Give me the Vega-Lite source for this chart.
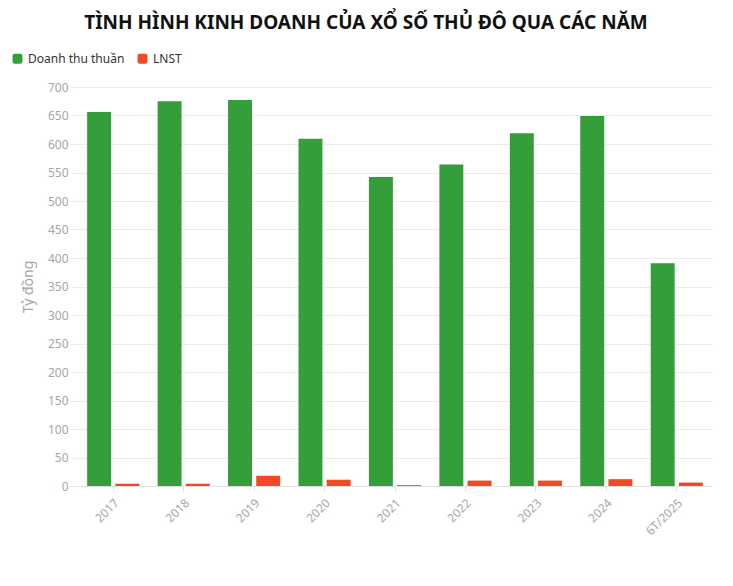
{
  "$schema": "https://vega.github.io/schema/vega-lite/v6.json",
  "width": 634,
  "height": 399,
  "autosize": "none",
  "padding": {"left": 78, "top": 87, "right": 21, "bottom": 100},
  "background": "white",
  "title": {
    "text": "TÌNH HÌNH KINH DOANH CỦA XỔ SỐ THỦ ĐÔ QUA CÁC NĂM",
    "font": "Noto Sans",
    "fontSize": 19,
    "fontWeight": "bold",
    "color": "#111111",
    "anchor": "middle",
    "dx": -29,
    "offset": 18
  },
  "data": {
    "values": [
      {"nam": "2017", "chi_tieu": "Doanh thu thuần", "gia_tri": 656},
      {"nam": "2017", "chi_tieu": "LNST", "gia_tri": 4},
      {"nam": "2018", "chi_tieu": "Doanh thu thuần", "gia_tri": 675},
      {"nam": "2018", "chi_tieu": "LNST", "gia_tri": 4},
      {"nam": "2019", "chi_tieu": "Doanh thu thuần", "gia_tri": 677},
      {"nam": "2019", "chi_tieu": "LNST", "gia_tri": 18},
      {"nam": "2020", "chi_tieu": "Doanh thu thuần", "gia_tri": 609},
      {"nam": "2020", "chi_tieu": "LNST", "gia_tri": 11},
      {"nam": "2021", "chi_tieu": "Doanh thu thuần", "gia_tri": 542},
      {"nam": "2021", "chi_tieu": "LNST", "gia_tri": 1.5},
      {"nam": "2022", "chi_tieu": "Doanh thu thuần", "gia_tri": 564},
      {"nam": "2022", "chi_tieu": "LNST", "gia_tri": 9.5},
      {"nam": "2023", "chi_tieu": "Doanh thu thuần", "gia_tri": 619},
      {"nam": "2023", "chi_tieu": "LNST", "gia_tri": 9.5},
      {"nam": "2024", "chi_tieu": "Doanh thu thuần", "gia_tri": 649},
      {"nam": "2024", "chi_tieu": "LNST", "gia_tri": 12},
      {"nam": "6T/2025", "chi_tieu": "Doanh thu thuần", "gia_tri": 391},
      {"nam": "6T/2025", "chi_tieu": "LNST", "gia_tri": 6}
    ]
  },
  "mark": {"type": "bar"},
  "encoding": {
    "x": {
      "field": "nam",
      "type": "nominal",
      "sort": null,
      "scale": {"paddingInner": 0.26, "paddingOuter": 0.13},
      "axis": {
        "title": null,
        "labelAngle": -45,
        "labelColor": "#a6a6a6",
        "labelFont": "Noto Sans",
        "labelFontSize": 12,
        "domainColor": "#e0e0e0",
        "tickColor": "#e0e0e0",
        "tickSize": 5,
        "labelPadding": 6
      }
    },
    "xOffset": {
      "field": "chi_tieu",
      "type": "nominal",
      "scale": {"paddingInner": 0.15, "paddingOuter": 0}
    },
    "y": {
      "field": "gia_tri",
      "type": "quantitative",
      "scale": {"domain": [0, 700], "nice": false},
      "axis": {
        "title": "Tỷ đồng",
        "titleColor": "#a6a6a6",
        "titleFont": "Noto Sans",
        "titleFontSize": 14,
        "titleFontWeight": "normal",
        "titlePadding": 12,
        "values": [0, 50, 100, 150, 200, 250, 300, 350, 400, 450, 500, 550, 600, 650, 700],
        "labelColor": "#a6a6a6",
        "labelFont": "Noto Sans",
        "labelFontSize": 12,
        "gridColor": "#ececec",
        "domain": false,
        "tickColor": "#ececec",
        "tickSize": 8,
        "labelPadding": 2
      }
    },
    "color": {
      "field": "chi_tieu",
      "type": "nominal",
      "scale": {"domain": ["Doanh thu thuần", "LNST"], "range": ["#339e3a", "#f04923"]},
      "legend": {
        "title": null,
        "orient": "none",
        "direction": "horizontal",
        "legendX": -68,
        "legendY": -36,
        "symbolType": "M-0.45,-0.7 L0.45,-0.7 Q0.7,-0.7 0.7,-0.4 L0.7,0.4 Q0.7,0.7 0.45,0.7 L-0.45,0.7 Q-0.7,0.7 -0.7,0.4 L-0.7,-0.4 Q-0.7,-0.7 -0.45,-0.7 Z",
        "symbolSize": 200,
        "symbolStrokeWidth": 0,
        "labelFont": "Noto Sans",
        "labelFontSize": 12,
        "labelColor": "#333333",
        "columnPadding": 10,
        "labelOffset": 3
      }
    }
  },
  "config": {
    "view": {"stroke": null},
    "bar": {"cornerRadius": 0}
  }
}
